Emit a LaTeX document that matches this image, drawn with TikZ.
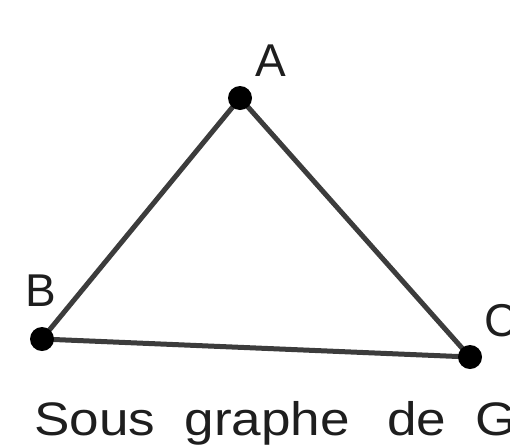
\documentclass[tikz,border=0pt]{standalone}
\usepackage{fontspec}
\setmainfont{Liberation Sans}
\begin{document}
\begin{tikzpicture}[x=1pt,y=-1pt,
  vertex/.style={circle,fill=black,inner sep=0pt,minimum size=24pt},
  edge/.style={line width=5pt,draw={rgb,255:red,60;green,60;blue,60}},
  lbl/.style={font=\fontsize{46}{46}\selectfont,text={rgb,255:red,30;green,30;blue,30},inner sep=0pt}]
\useasboundingbox (0,0) rectangle (510,445);
\clip (0,0) rectangle (510,445);
\coordinate (A) at (240,98);
\coordinate (B) at (42,339);
\coordinate (C) at (470,357);
\draw[edge] (A) -- (B) -- (C) -- cycle;
\node[vertex] (a) at (A) {};
\node[vertex] (b) at (B) {};
\node[vertex] (c) at (C) {};
\node[lbl,anchor=base] (la) at (271,76) {A};
\node[lbl,anchor=base] (lb) at (41,306) {B};
\node[lbl,anchor=base west] (lc) at (484,336) {C};
\node[lbl,anchor=base west,font=\fontsize{47}{47}\selectfont,xscale=1.13,transform shape] (t) at (34,435) {Sous\hspace{26pt}graphe\hspace{33pt}de\hspace{26pt}G};
\end{tikzpicture}
\end{document}
